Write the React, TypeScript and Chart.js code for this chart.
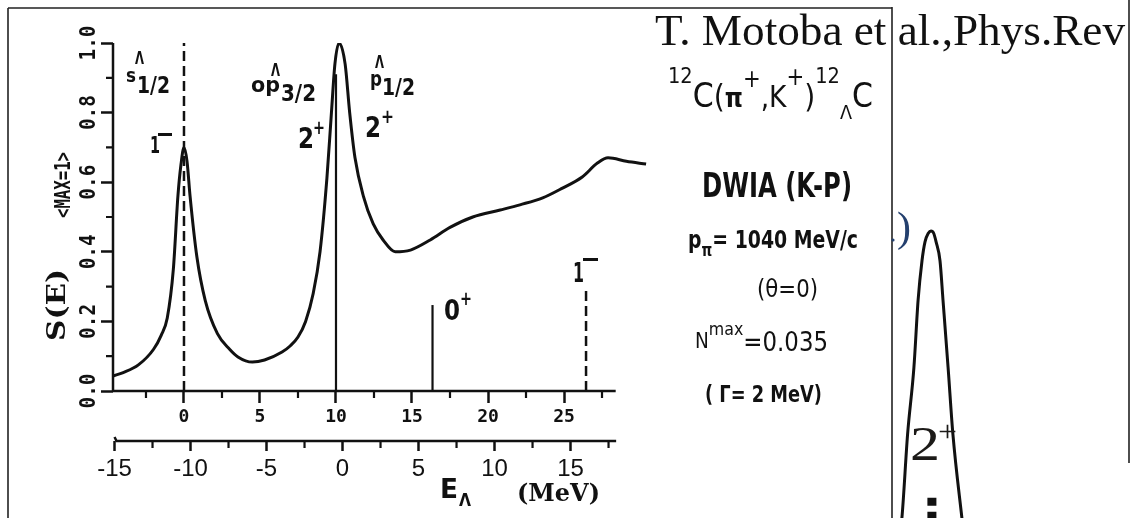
import { useEffect, useRef } from "react";
import { Chart, registerables } from "chart.js";

Chart.register(...registerables);

// Strength function S(E) (normalised to its maximum) vs. energy E in MeV
const energyMeV = [
  -4.67, -4, -3, -2, -1.5, -1.1, -0.7, -0.4, -0.2, 0, 0.2, 0.4, 0.85, 1.4, 2.2,
  3, 3.55, 4.5, 5.3, 6.45, 7, 7.5, 8, 8.5, 8.95, 9.4, 9.7, 9.93, 10.2, 10.6,
  10.9, 11.25, 11.8, 12.45, 13.1, 13.9, 14.9, 16.2, 17.5, 19, 20.8, 22.1, 23.6,
  24.9, 26.2, 27.2, 27.9, 29.1, 30.4,
];
const strength = [
  0.043, 0.053, 0.075, 0.12, 0.16, 0.21, 0.35, 0.56, 0.65, 0.7, 0.66, 0.56,
  0.385, 0.26, 0.165, 0.12, 0.098, 0.083, 0.089, 0.112, 0.13, 0.155, 0.2, 0.28,
  0.4, 0.61, 0.8, 0.94, 1.0, 0.94, 0.8, 0.67, 0.56, 0.48, 0.434, 0.4, 0.405,
  0.434, 0.47, 0.5, 0.52, 0.535, 0.555, 0.583, 0.615, 0.655, 0.67, 0.66, 0.652,
];

// Individual states drawn as sticks (1-, 2+, 0+, 1-)
const stateEnergyMeV = [0, 10, 16.35, 26.45];
const stateHeight = [1.0, 0.91, 0.247, 0.3];
const stateDashed = [true, false, false, true];

// Axis ranges and ticks
const E_MIN = -4.67;
const E_MAX = 30.46;
const E_AXIS_END = 28.4;
const LAMBDA_SHIFT = 10.43; // E_Lambda = E - 10.43 MeV
const eTicks = [-2.5, 0, 2.5, 5, 7.5, 10, 12.5, 15, 17.5, 20, 22.5, 25, 27.5];
const eLambdaTicks = [-15, -12.5, -10, -7.5, -5, -2.5, 0, 2.5, 5, 7.5, 10, 12.5, 15, 17.5];
const eLambdaAxisStart = -15;
const eLambdaAxisEnd = 18.0;
const sTicks = [0, 0.1, 0.2, 0.3, 0.4, 0.5, 0.6, 0.7, 0.8, 0.9, 1.0];
const sLabels = ["0.0", "0.2", "0.4", "0.6", "0.8", "1.0"];

// Neighbouring 2+ peak (cut out of the adjacent figure)
const peakX = [-1.1, -0.97, -0.78, -0.57, -0.43, -0.3, -0.2, -0.09, 0, 0.09, 0.17, 0.3, 0.4, 0.57, 0.73, 1.03, 1.14];
const peakY = [-0.1, 0, 0.29, 0.52, 0.754, 0.89, 0.955, 0.985, 0.993, 0.985, 0.955, 0.89, 0.754, 0.52, 0.29, 0, -0.1];
const stemX = [0.03, 0.03];
const stemY = [0.07, -0.01];

const INK = "#111";
const SANS = '"DejaVu Sans"';
const MONO = '"DejaVu Sans Mono"';
const SERIF_BOLD = '"DejaVu Serif"';

type Seg = { t: string; size: number; dy?: number; weight?: string; family?: string };

function drawRich(
  ctx: CanvasRenderingContext2D,
  segs: Seg[],
  x: number,
  y: number,
  family: string,
  weight: string,
  width?: number,
  color: string = INK
) {
  const fontOf = (s: Seg) => `${s.weight ?? weight} ${s.size}px ${s.family ?? family}`;
  const widths = segs.map((s) => {
    ctx.font = fontOf(s);
    return ctx.measureText(s.t).width;
  });
  const total = widths.reduce((a, b) => a + b, 0);
  const sx = width ? width / total : 1;
  ctx.save();
  ctx.translate(x, y);
  ctx.scale(sx, 1);
  ctx.textAlign = "left";
  ctx.textBaseline = "alphabetic";
  ctx.fillStyle = color;
  let cx = 0;
  segs.forEach((s, i) => {
    ctx.font = fontOf(s);
    ctx.fillText(s.t, cx, s.dy ?? 0);
    cx += widths[i];
  });
  ctx.restore();
}

function drawRotated(
  ctx: CanvasRenderingContext2D,
  text: string,
  baseX: number,
  centerY: number,
  font: string,
  width?: number
) {
  ctx.save();
  ctx.translate(baseX, centerY);
  ctx.rotate(-Math.PI / 2);
  ctx.font = font;
  ctx.textAlign = "center";
  ctx.textBaseline = "alphabetic";
  ctx.fillStyle = INK;
  if (width) {
    const w = ctx.measureText(text).width;
    ctx.scale(width / w, 1);
  }
  ctx.fillText(text, 0, 0);
  ctx.restore();
}

const isMajorE = (v: number) => Math.abs(v % 5) < 1e-6;
const isMajorS = (v: number) => Math.round(v * 10) % 2 === 0;

const spectrumDecor = {
  id: "spectrumDecor",
  afterDraw(chart: Chart) {
    const ctx = chart.ctx;
    const x = chart.scales.x;
    const x2 = chart.scales.x2;
    const y = chart.scales.y;
    const area = chart.chartArea;

    ctx.save();
    // figure frames
    ctx.strokeStyle = "#222";
    ctx.lineWidth = 1.6;
    ctx.beginPath();
    ctx.moveTo(8, 8);
    ctx.lineTo(892, 8);
    ctx.moveTo(8, 8);
    ctx.lineTo(8, 518);
    ctx.moveTo(892, 7);
    ctx.lineTo(892, 518);
    ctx.moveTo(1129, 0);
    ctx.lineTo(1129, 463);
    ctx.stroke();

    // axis lines
    ctx.strokeStyle = INK;
    ctx.lineWidth = 2.5;
    ctx.lineCap = "butt";
    ctx.beginPath();
    ctx.moveTo(x.getPixelForValue(E_MIN), area.bottom);
    ctx.lineTo(x.getPixelForValue(E_AXIS_END), area.bottom);
    ctx.moveTo(area.left, y.getPixelForValue(0) + 1);
    ctx.lineTo(area.left, y.getPixelForValue(1));
    const x2y = x2.top;
    ctx.moveTo(x2.getPixelForValue(eLambdaAxisStart), x2y - 4);
    ctx.lineTo(x2.getPixelForValue(eLambdaAxisStart) + 2, x2y);
    ctx.lineTo(x2.getPixelForValue(eLambdaAxisEnd), x2y);
    ctx.stroke();

    // minor ticks
    ctx.lineWidth = 2.2;
    ctx.beginPath();
    eTicks.filter((v) => !isMajorE(v)).forEach((v) => {
      const px = x.getPixelForValue(v);
      ctx.moveTo(px, area.bottom);
      ctx.lineTo(px, area.bottom + 7);
    });
    eLambdaTicks.filter((v) => !isMajorE(v)).forEach((v) => {
      const px = x2.getPixelForValue(v);
      ctx.moveTo(px, x2y);
      ctx.lineTo(px, x2y + 7);
    });
    sTicks.filter((v) => !isMajorS(v)).forEach((v) => {
      const py = y.getPixelForValue(v);
      ctx.moveTo(area.left, py);
      ctx.lineTo(area.left - 7, py);
    });
    ctx.stroke();

    // rotated y tick labels and titles
    sLabels.forEach((s) => {
      drawRotated(ctx, s, 95, y.getPixelForValue(Number(s)), `bold 21px ${MONO}`, 35);
    });
    drawRotated(ctx, "<MAX=1>", 70, 185, `bold 21px ${MONO}`, 66);
    drawRotated(ctx, "S(E)", 65, 305, `bold 26px ${SERIF_BOLD}`, 72);

    // E_Lambda (MeV)
    drawRich(ctx, [{ t: "E", size: 26 }], 440, 498, SANS, "bold", 18);
    drawRich(ctx, [{ t: "Λ", size: 17 }], 459, 506, SANS, "bold", 12);
    drawRich(ctx, [{ t: "(MeV)", size: 25 }], 517, 501, SERIF_BOLD, "bold", 83);

    // state labels inside the plot
    drawRich(ctx, [{ t: "s", size: 20 }], 126, 82, SANS, "bold", 10);
    drawRich(ctx, [{ t: "Λ", size: 17 }], 135, 64, SANS, "bold", 9);
    drawRich(ctx, [{ t: "1/2", size: 23 }], 137, 93, SANS, "bold", 33);
    drawRich(ctx, [{ t: "1", size: 23 }], 150, 153, SANS, "bold", 10);
    ctx.fillStyle = INK;
    ctx.fillRect(158, 133, 14, 3);

    drawRich(ctx, [{ t: "op", size: 21 }], 251, 92, SANS, "bold", 29);
    drawRich(ctx, [{ t: "Λ", size: 17 }], 271, 76, SANS, "bold", 9);
    drawRich(ctx, [{ t: "3/2", size: 23 }], 281, 101, SANS, "bold", 35);

    drawRich(ctx, [{ t: "p", size: 21 }], 370, 86, SANS, "bold", 12);
    drawRich(ctx, [{ t: "Λ", size: 17 }], 375, 68, SANS, "bold", 9);
    drawRich(ctx, [{ t: "1/2", size: 23 }], 382, 95, SANS, "bold", 33);

    drawRich(ctx, [{ t: "2", size: 29 }], 298, 148, SANS, "bold", 16);
    drawRich(ctx, [{ t: "+", size: 20 }], 313, 134, SANS, "bold", 12);
    drawRich(ctx, [{ t: "2", size: 29 }], 365, 137, SANS, "bold", 16);
    drawRich(ctx, [{ t: "+", size: 20 }], 381, 123, SANS, "bold", 13);
    drawRich(ctx, [{ t: "0", size: 29 }], 444, 320, SANS, "bold", 16);
    drawRich(ctx, [{ t: "+", size: 20 }], 460, 305, SANS, "bold", 12);
    drawRich(ctx, [{ t: "1", size: 26 }], 573, 282, SANS, "bold", 11);
    ctx.fillStyle = INK;
    ctx.fillRect(583, 258, 15, 3);

    // reaction panel
    drawRich(
      ctx,
      [
        { t: "12", size: 22, dy: -24 },
        { t: "C", size: 34 },
        { t: "(", size: 32 },
        { t: "π", size: 26, weight: "bold" },
        { t: "+", size: 24, dy: -20 },
        { t: ",", size: 30 },
        { t: "K", size: 30 },
        { t: "+", size: 24, dy: -22 },
        { t: ")", size: 32 },
        { t: "12", size: 22, dy: -24 },
        { t: "Λ", size: 20, dy: 12 },
        { t: "C", size: 34 },
      ],
      668,
      107,
      SANS,
      "normal",
      205
    );
    drawRich(ctx, [{ t: "DWIA (K-P)", size: 34 }], 702, 197, SANS, "bold", 150);
    drawRich(
      ctx,
      [
        { t: "p", size: 25 },
        { t: "π", size: 18, dy: 8 },
        { t: "= 1040 MeV/c", size: 25 },
      ],
      688,
      248,
      SANS,
      "bold",
      170
    );
    drawRich(ctx, [{ t: "(θ=0)", size: 24 }], 757, 297, SANS, "normal", 61);
    drawRich(
      ctx,
      [
        { t: "N", size: 21, dy: -3 },
        { t: "max", size: 18, dy: -16 },
        { t: "=0.035", size: 26 },
      ],
      695,
      351,
      SANS,
      "normal",
      133
    );
    drawRich(ctx, [{ t: "( Γ= 2 MeV)", size: 23 }], 705, 402, SANS, "bold", 117);

    // reference line
    drawRich(
      ctx,
      [{ t: "T. Motoba et al.,Phys.Rev", size: 44 }],
      655,
      45,
      '"Liberation Serif"',
      "normal",
      470
    );
    ctx.restore();
  },
};

const peakDecor = {
  id: "peakDecor",
  afterDraw(chart: Chart) {
    const ctx = chart.ctx;
    ctx.save();
    drawRich(ctx, [{ t: ")", size: 42 }], 17, 41, '"Liberation Serif"', "normal", 14, "#24406e");
    ctx.fillStyle = "#24406e";
    ctx.beginPath();
    ctx.arc(13, 40, 1.6, 0, Math.PI * 2);
    ctx.fill();
    drawRich(ctx, [{ t: "2", size: 48 }], 30, 260, '"Liberation Serif"', "normal", 30, "#1c1a18");
    drawRich(ctx, [{ t: "+", size: 30 }], 58, 241, '"Liberation Serif"', "normal", 19, "#1c1a18");
    ctx.restore();
  },
};

function Spectrum() {
  const ref = useRef<HTMLCanvasElement>(null);
  useEffect(() => {
    if (!ref.current) return;
    const curve = energyMeV.map((e, i) => ({ x: e, y: strength[i] }));
    const sticks = stateEnergyMeV.map((e, i) => ({
      data: [
        { x: e, y: 0 },
        { x: e, y: stateHeight[i] },
      ],
      borderColor: INK,
      borderWidth: stateDashed[i] ? 2.5 : 2.2,
      borderDash: stateDashed[i] ? [10, 5] : [],
      pointRadius: 0,
      xAxisID: "x",
      yAxisID: "y",
    }));
    const chart = new Chart(ref.current, {
      type: "line",
      data: {
        datasets: [
          {
            data: curve,
            borderColor: INK,
            borderWidth: 3,
            pointRadius: 0,
            cubicInterpolationMode: "monotone",
            xAxisID: "x",
            yAxisID: "y",
          },
          ...sticks,
        ],
      },
      options: {
        animation: false,
        responsive: false,
        events: [],
        layout: { padding: { top: 43, right: 483, bottom: 0, left: 0 } },
        plugins: { legend: { display: false }, tooltip: { enabled: false } },
        scales: {
          x: {
            type: "linear",
            position: "bottom",
            weight: 0,
            min: E_MIN,
            max: E_MAX,
            afterBuildTicks: (s: any) => {
              s.ticks = eTicks.map((v) => ({ value: v }));
            },
            afterFit: (s: any) => {
              s.height = 50;
            },
            border: { display: false },
            grid: {
              drawOnChartArea: false,
              drawTicks: true,
              tickLength: 12,
              tickWidth: 2.5,
              tickColor: (c: any) => (isMajorE(c.tick.value) ? INK : "rgba(0,0,0,0)"),
            },
            ticks: {
              autoSkip: false,
              maxRotation: 0,
              minRotation: 0,
              padding: 4,
              color: INK,
              font: { family: "DejaVu Sans Mono", size: 18, weight: "bold" },
              callback: (v: any) => (isMajorE(Number(v)) ? String(v) : ""),
            },
          },
          x2: {
            type: "linear",
            axis: "x",
            position: "bottom",
            weight: 1,
            min: E_MIN - LAMBDA_SHIFT,
            max: E_MAX - LAMBDA_SHIFT,
            afterBuildTicks: (s: any) => {
              s.ticks = eLambdaTicks.map((v) => ({ value: v }));
            },
            afterFit: (s: any) => {
              s.height = 77;
            },
            border: { display: false },
            grid: {
              drawOnChartArea: false,
              drawTicks: true,
              tickLength: 10,
              tickWidth: 2.5,
              tickColor: (c: any) => (isMajorE(c.tick.value) ? INK : "rgba(0,0,0,0)"),
            },
            ticks: {
              autoSkip: false,
              maxRotation: 0,
              minRotation: 0,
              padding: 4,
              color: INK,
              font: { family: "Liberation Sans", size: 24 },
              callback: (v: any) => (isMajorE(Number(v)) ? String(v) : ""),
            },
          },
          y: {
            type: "linear",
            position: "left",
            min: 0,
            max: 1,
            afterBuildTicks: (s: any) => {
              s.ticks = sTicks.map((v) => ({ value: v }));
            },
            afterFit: (s: any) => {
              s.width = 113;
            },
            border: { display: false },
            grid: {
              drawOnChartArea: false,
              drawTicks: true,
              tickLength: 12,
              tickWidth: 2.5,
              tickColor: (c: any) => (isMajorS(c.tick.value) ? INK : "rgba(0,0,0,0)"),
            },
            ticks: { display: false },
          },
        },
      },
      plugins: [spectrumDecor],
    } as any);
    return () => chart.destroy();
  }, []);
  return (
    <canvas
      ref={ref}
      width={1130}
      height={518}
      style={{ position: "absolute", left: 0, top: 0, width: 1130, height: 518 }}
    />
  );
}

function NeighbourPeak() {
  const ref = useRef<HTMLCanvasElement>(null);
  useEffect(() => {
    if (!ref.current) return;
    const chart = new Chart(ref.current, {
      type: "line",
      data: {
        datasets: [
          {
            data: peakX.map((v, i) => ({ x: v, y: peakY[i] })),
            borderColor: INK,
            borderWidth: 3,
            pointRadius: 0,
            cubicInterpolationMode: "monotone",
          },
          {
            data: stemX.map((v, i) => ({ x: v, y: stemY[i] })),
            borderColor: INK,
            borderWidth: 9,
            borderDash: [8, 6],
            borderCapStyle: "butt",
            pointRadius: 0,
          },
        ],
      },
      options: {
        animation: false,
        responsive: false,
        events: [],
        layout: { padding: 0 },
        plugins: { legend: { display: false }, tooltip: { enabled: false } },
        scales: {
          x: { type: "linear", display: false, min: -1.7, max: 2.3 },
          y: { type: "linear", display: false, min: 0, max: 1.1 },
        },
      },
      plugins: [peakDecor],
    } as any);
    return () => chart.destroy();
  }, []);
  return (
    <canvas
      ref={ref}
      width={120}
      height={318}
      style={{ position: "absolute", left: 880, top: 200, width: 120, height: 318 }}
    />
  );
}

export default function App() {
  return (
    <div
      style={{
        position: "absolute",
        left: 0,
        top: 0,
        width: 1130,
        height: 518,
        background: "#fff",
        overflow: "hidden",
      }}
    >
      <Spectrum />
      <NeighbourPeak />
    </div>
  );
}
